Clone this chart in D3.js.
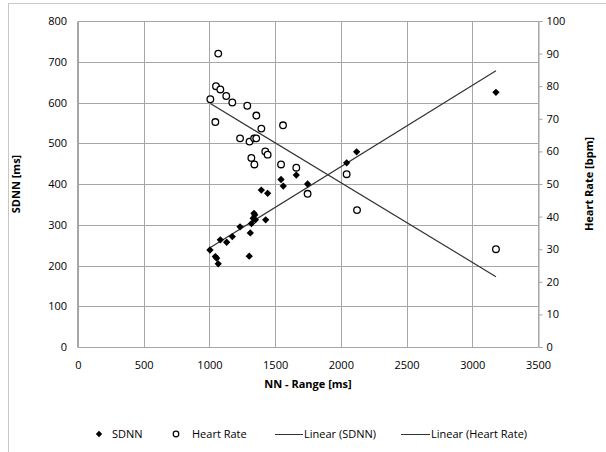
<!DOCTYPE html>
<html><head><meta charset="utf-8">
<script src="https://cdn.jsdelivr.net/npm/d3@7"></script>
<style>
body{margin:0;background:#fff;}
svg{display:block;font-family:"Open Sans",sans-serif;}
</style></head>
<body><svg id="c" width="606" height="452"></svg>
<script>
// ---- data ----
const sdnnNN   = [3180,2120,2044,1747,1661,1562,1545,1443,1428,1395,1339,1345,1333,1350,1320,1311,1303,1233,1174,1131,1083,1004,1045,1055,1067];
const sdnnVal  = [625,479,452,400,422,395,411,377,312,385,328,324,316,312,303,280,223,295,271,257,263,238,222,218,204];
const hrNN     = [1067,1050,1083,1128,1174,1007,1288,1045,1357,1560,1395,1233,1305,1340,1356,1425,1443,1319,1342,1545,1661,2044,1747,2123,3180];
const hrVal    = [90,80,79,77,75,76,74,69,71,68,67,64,63,64,64,60,59,58,56,56,55,53,47,42,30];
const xTicks   = [0,500,1000,1500,2000,2500,3000,3500];
const yTicks   = [0,100,200,300,400,500,600,700,800];
const y2Ticks  = [0,10,20,30,40,50,60,70,80,90,100];
const legendLabels = ["SDNN","Heart Rate","Linear (SDNN)","Linear (Heart Rate)"];

const svg = d3.select("#c");
const L=78, R=538, T=21, B=347;
const x = d3.scaleLinear().domain([0,3500]).range([L,R]);
const y = d3.scaleLinear().domain([0,800]).range([B,T]);
const y2 = d3.scaleLinear().domain([0,100]).range([B,T]);
const grid="#a6a6a6", txt="#000";

// chart border
svg.append("rect").attr("x",8.5).attr("y",3.5).attr("width",640).attr("height",480)
  .attr("fill","none").attr("stroke","#c8c8c8");

// gridlines
svg.append("g").selectAll("line").data(yTicks).join("line")
  .attr("x1",L).attr("x2",R).attr("y1",d=>Math.round(y(d))+0.5).attr("y2",d=>Math.round(y(d))+0.5)
  .attr("stroke",grid);
svg.append("g").selectAll("line").data(xTicks).join("line")
  .attr("y1",T).attr("y2",B).attr("x1",d=>Math.round(x(d))+0.5).attr("x2",d=>Math.round(x(d))+0.5)
  .attr("stroke",grid);

// axes
const fs=11;
const ax = svg.append("g").attr("transform",`translate(0,${Math.round(B)+0.5})`)
  .call(d3.axisBottom(x).tickValues(xTicks).tickSize(0).tickPadding(14).tickFormat(d3.format("d")));
const ay = svg.append("g").attr("transform",`translate(${L-1},0)`)
  .call(d3.axisLeft(y).tickValues(yTicks).tickSize(0).tickPadding(10).tickFormat(d3.format("d")));
const ay2 = svg.append("g").attr("transform",`translate(${R+0.5},0)`)
  .call(d3.axisRight(y2).tickValues(y2Ticks).tickSize(4).tickPadding(4).tickFormat(d3.format("d")));
[ax,ay,ay2].forEach(g=>{
  g.select(".domain").attr("stroke",grid);
  g.selectAll(".tick line").attr("stroke",grid);
  g.selectAll("text").attr("font-size",fs).attr("fill",txt).attr("font-family","Open Sans");
});
ax.select(".domain").remove();

// titles
svg.append("text").attr("x",(L+R)/2).attr("y",388).attr("text-anchor","middle")
  .attr("font-size",11).attr("font-weight","bold").text("NN - Range [ms]");
svg.append("text").attr("transform",`translate(20,${(T+B)/2}) rotate(-90)`).attr("text-anchor","middle")
  .attr("font-size",11).attr("font-weight","bold").text("SDNN [ms]");
svg.append("text").attr("transform",`translate(593,${(T+B)/2}) rotate(-90)`).attr("text-anchor","middle")
  .attr("font-size",11).attr("font-weight","bold").text("Heart Rate [bpm]");

// regression
function linreg(xs,ys){
  const mx=d3.mean(xs), my=d3.mean(ys);
  let sxy=0,sxx=0; xs.forEach((v,i)=>{sxy+=(v-mx)*(ys[i]-my); sxx+=(v-mx)*(v-mx);});
  const b=sxy/sxx; return {a:my-b*mx,b};
}
const r1=linreg(sdnnNN,sdnnVal), r2=linreg(hrNN,hrVal);
const x1=d3.min(sdnnNN), x1b=d3.max(sdnnNN), x2a=d3.min(hrNN), x2b=d3.max(hrNN);
const line=d3.line();
svg.append("path").attr("d",line([[x(x1),y(r1.a+r1.b*x1)],[x(x1b),y(r1.a+r1.b*x1b)]]))
  .attr("stroke","#333").attr("stroke-width",1.2).attr("fill","none");
svg.append("path").attr("d",line([[x(x2a),y2(r2.a+r2.b*x2a)],[x(x2b),y2(r2.a+r2.b*x2b)]]))
  .attr("stroke","#333").attr("stroke-width",1.2).attr("fill","none");

// markers
const diamond = d3.symbol().type(d3.symbolDiamond2).size(34);
svg.append("g").selectAll("path").data(sdnnNN).join("path")
  .attr("d",diamond).attr("transform",(d,i)=>`translate(${x(d)},${y(sdnnVal[i])})`).attr("fill","#000");
svg.append("g").selectAll("circle").data(hrNN).join("circle")
  .attr("cx",d=>x(d)).attr("cy",(d,i)=>y2(hrVal[i])).attr("r",3.3)
  .attr("fill","#fff").attr("stroke","#000").attr("stroke-width",1.3);

// legend
const ly=434;
const lg=svg.append("g").attr("font-size",11);
lg.append("path").attr("d",d3.symbol().type(d3.symbolDiamond2).size(26)).attr("transform",`translate(99,${ly})`);
lg.append("text").attr("x",112).attr("y",ly+4).text(legendLabels[0]);
lg.append("circle").attr("cx",176).attr("cy",ly).attr("r",2.8).attr("fill","#fff").attr("stroke","#000").attr("stroke-width",1.2);
lg.append("text").attr("x",192).attr("y",ly+4).text(legendLabels[1]);
lg.append("line").attr("x1",275).attr("x2",303).attr("y1",ly+0.5).attr("y2",ly+0.5).attr("stroke","#333");
lg.append("text").attr("x",304).attr("y",ly+4).text(legendLabels[2]);
lg.append("line").attr("x1",401).attr("x2",430).attr("y1",ly+0.5).attr("y2",ly+0.5).attr("stroke","#333");
lg.append("text").attr("x",431).attr("y",ly+4).text(legendLabels[3]);
</script></body></html>
